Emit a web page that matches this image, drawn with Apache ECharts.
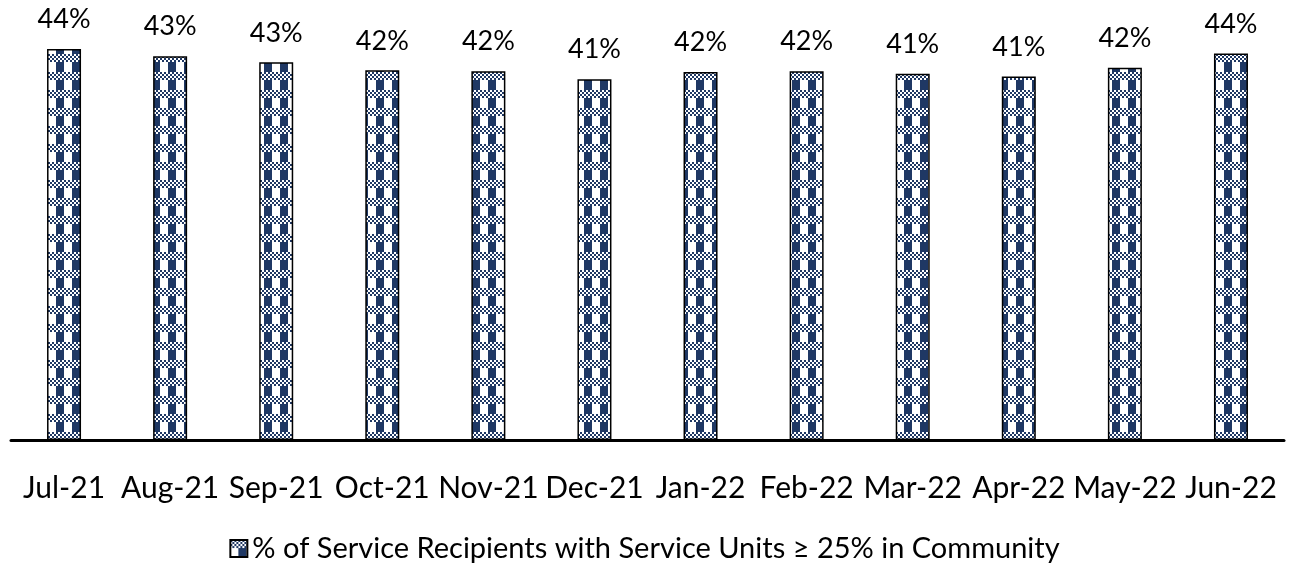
<!DOCTYPE html>
<html>
<head>
<meta charset="utf-8">
<script src="https://cdn.jsdelivr.net/npm/echarts@6/dist/echarts.min.js"></script>
<style>
  html, body { margin: 0; padding: 0; background: #fff; }
  #chart { width: 1289px; height: 565px; }
</style>
</head>
<body>
<div id="chart"></div>
<script>
// Monthly share of service recipients (percent)
const months = ['Jul-21', 'Aug-21', 'Sep-21', 'Oct-21', 'Nov-21', 'Dec-21',
                'Jan-22', 'Feb-22', 'Mar-22', 'Apr-22', 'May-22', 'Jun-22'];
const shareInCommunity = [44.2, 43.4, 42.7, 41.8, 41.7, 40.8,
                          41.6, 41.7, 41.4, 41.1, 42.1, 43.7];
const seriesName = '% of Service Recipients with Service Units \u2265 25% in Community';

const NAVY = '#1F3864';

// Gingham-like fill: navy vertical stripes crossed by bands of small squares
function makePattern() {
  const W = 16, H = 18, BAND = 8;
  const c = document.createElement('canvas');
  c.width = W; c.height = H;
  const ctx = c.getContext('2d');
  ctx.fillStyle = '#fff';
  ctx.fillRect(0, 0, W, H);
  ctx.fillStyle = NAVY;
  // plain section: one navy stripe per repeat
  ctx.fillRect(8, BAND, 8, H - BAND);
  // band of 2px squares
  for (let y = 0; y < BAND; y += 2) {
    for (let x = 0; x < W; x += 2) {
      if (((x >> 1) + (y >> 1)) % 2 === 0) ctx.fillRect(x, y, 2, 2);
    }
  }
  return c;
}

const FONT = 'Lato';
const chart = echarts.init(document.getElementById('chart'), null, { renderer: 'canvas' });

chart.setOption({
  animation: false,
  backgroundColor: '#fff',
  grid: { left: 11, right: 5, top: 42, bottom: 125, containLabel: false },
  xAxis: {
    type: 'category',
    data: months,
    axisLine: { show: true, lineStyle: { color: '#000', width: 3 } },
    axisTick: { show: false },
    axisLabel: { color: '#000', fontFamily: FONT, fontSize: 30, margin: 33, interval: 0 }
  },
  yAxis: {
    type: 'value',
    min: 0,
    max: 45,
    show: false,
    splitLine: { show: false }
  },
  legend: {
    bottom: -3,
    left: 'center',
    itemWidth: 17,
    itemHeight: 17,
    itemGap: 6,
    icon: 'rect',
    textStyle: { color: '#000', fontFamily: FONT, fontSize: 29 },
    data: [seriesName]
  },
  series: [{
    name: seriesName,
    type: 'bar',
    data: shareInCommunity,
    barWidth: 34,
    itemStyle: {
      color: { image: makePattern(), repeat: 'repeat' },
      borderColor: '#000',
      borderWidth: 1.5
    },
    label: {
      show: true,
      position: 'top',
      distance: 16,
      color: '#000',
      fontFamily: FONT,
      fontSize: 27,
      formatter: p => Math.round(p.value) + '%'
    }
  }]
});
</script>
</body>
</html>
